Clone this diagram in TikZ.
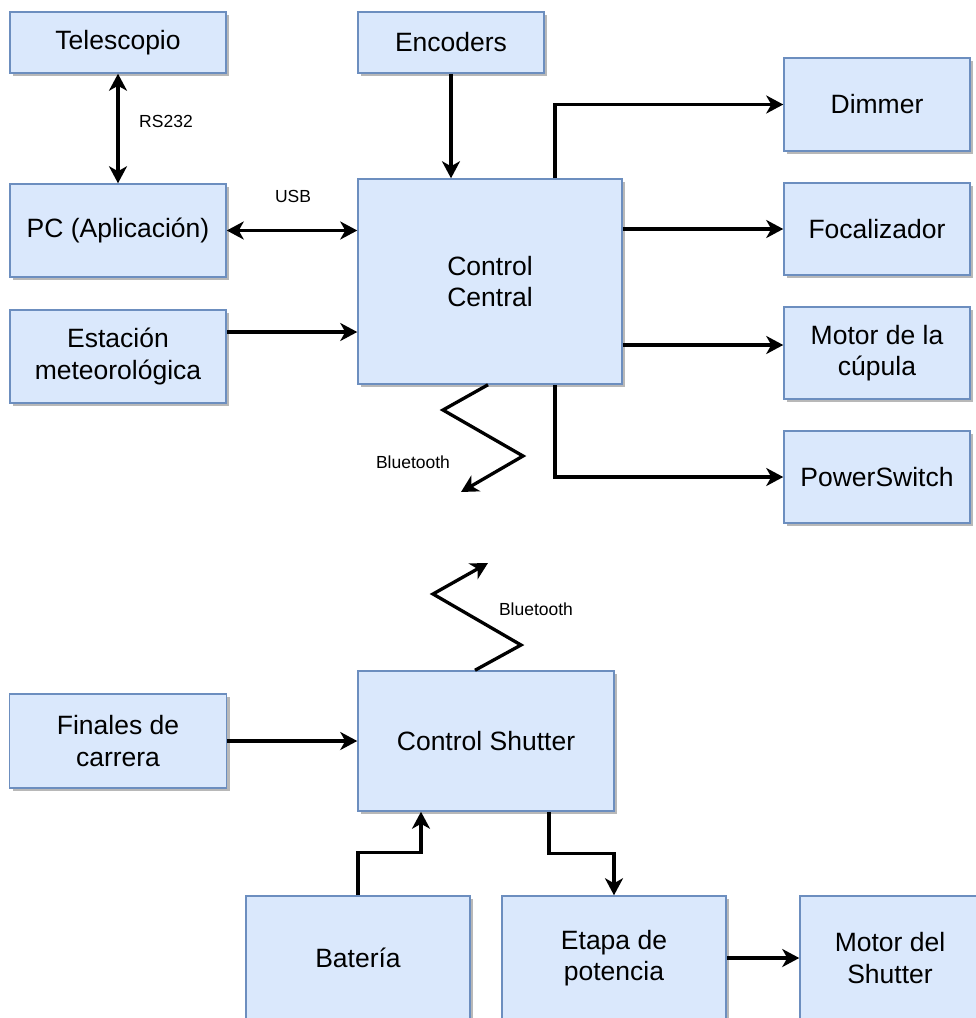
\documentclass[tikz,border=0pt]{standalone}
\usepackage{fontspec}
\setmainfont{Liberation Sans}
\usetikzlibrary{arrows.meta,shadows}
\definecolor{blkfill}{RGB}{218,232,252}
\definecolor{blkline}{RGB}{108,142,191}
\tikzset{
  blk/.style={draw=blkline, fill=blkfill, line width=1.5pt, inner sep=2pt,
    align=center, font=\fontsize{26.5}{31.5}\selectfont,
    drop shadow={shadow xshift=3pt, shadow yshift=-3pt, fill=black!28, opacity=1}},
  conn/.style={line width=3.3pt, draw=black},
  tip/.style={-{Stealth[length=17pt,width=18pt,inset=5pt]}},
  arr/.style={conn, tip},
  biarr/.style={conn, {Stealth[length=17pt,width=18pt,inset=5pt]}-{Stealth[length=17pt,width=18pt,inset=5pt]}},
  lbl/.style={font=\fontsize{17.5}{21}\selectfont, inner sep=0pt}
}
\begin{document}
\begin{tikzpicture}[x=1pt, y=-1pt]
\useasboundingbox (0,0) rectangle (976,1018);
\clip (0,0) rectangle (976,1018);

% upper group: central controller and its peripherals
\node[blk, minimum width=216pt, minimum height=61pt] (tel) at (118,42.5) {Telescopio};
\node[blk, minimum width=186pt, minimum height=61pt] (enc) at (451,42.5) {Encoders};
\node[blk, minimum width=216pt, minimum height=93pt] (pc) at (118,230.5) {PC (Aplicación)};
\node[blk, minimum width=264pt, minimum height=205pt] (cc) at (490,281.5) {Control\\Central};
\node[blk, minimum width=216pt, minimum height=93pt] (est) at (118,356.5) {Estación\\meteorológica};
\node[blk, minimum width=186pt, minimum height=93pt] (dim) at (877,104.5) {Dimmer};
\node[blk, minimum width=186pt, minimum height=92pt] (foc) at (877,229) {Focalizador};
\node[blk, minimum width=186pt, minimum height=92pt] (mot) at (877,353) {Motor de la\\cúpula};
\node[blk, minimum width=186pt, minimum height=92pt] (pw) at (877,477) {PowerSwitch};

% lower group: shutter controller
\node[blk, minimum width=217pt, minimum height=94pt] (fin) at (118,741) {Finales de\\carrera};
\node[blk, minimum width=256pt, minimum height=140pt] (cs) at (486,741) {Control Shutter};
\node[blk, minimum width=224pt, minimum height=124pt] (bat) at (358,958) {Batería};
\node[blk, minimum width=224pt, minimum height=124pt] (etp) at (614,958) {Etapa de\\potencia};
\node[blk, minimum width=180pt, minimum height=124pt] (msh) at (890,958) {Motor del\\Shutter};

% links of the central controller
\draw[biarr] (tel.south) -- (pc.north);
\node[lbl] (rs) at (166,121) {RS232};
\draw[arr] (enc.south) -- (enc.south |- cc.north);
\draw[biarr] (pc.east) -- (pc.east -| cc.west);
\node[lbl] (usb) at (293,196) {USB};
\draw[arr] ([yshift=24.5pt]est.east) coordinate (e1) -- (e1 -| cc.west);
\draw[arr] ([xshift=65pt]cc.north) |- (dim.west);
\draw[arr] (cc.east |- foc.west) -- (foc.west);
\draw[arr] ([yshift=8pt]mot.west) coordinate (m1) (m1 -| cc.east) -- (m1);
\draw[arr] ([xshift=65pt]cc.south) |- (pw.west);

% wireless links
\coordinate (bt1) at (461,492);
\draw[arr, line join=miter] ([xshift=-2pt]cc.south) -- (443,410) -- (523,456) -- (bt1);
\node[lbl] (btl1) at (413,462) {Bluetooth};
\coordinate (bt2) at (488,563);
\draw[arr, line join=miter] ([xshift=-11pt]cs.north) -- (521,645) -- (433,594) -- (bt2);
\node[lbl] (btl2) at (536,609) {Bluetooth};

% links of the shutter controller
\draw[arr] (fin.east) -- (fin.east -| cs.west);
\draw[arr] (bat.north) -- ++(0,-43) -| ([xshift=-65pt]cs.south);
\draw[arr] ([xshift=63pt]cs.south) -- ++(0,42) -| (etp.north);
\draw[arr] (etp.east) -- (msh.west);
\end{tikzpicture}
\end{document}
